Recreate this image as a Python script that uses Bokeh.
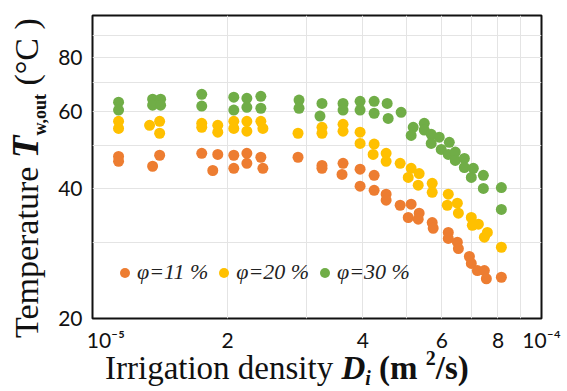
from bokeh.plotting import figure
from bokeh.layouts import column, row
from bokeh.models import Range1d, FixedTicker, Legend, LegendItem, Div
from bokeh.embed import file_html
from bokeh.resources import INLINE

# Irrigation density D_i in units of 1e-5 m^2/s; outlet water temperature in °C
d_11 = [1.143, 1.143, 1.411, 1.361, 1.751, 1.901, 1.853, 2.064, 2.064, 2.207, 2.207,
        2.371, 2.396, 2.869, 3.244, 3.244, 3.614, 3.595, 3.944, 3.944, 4.239, 4.239,
        4.508, 4.508, 4.844, 5.125, 5.049, 5.34, 5.314, 5.709, 5.738, 6.200, 6.200,
        6.495, 6.530, 6.909, 6.977, 7.197, 7.460, 7.537, 8.14]
t_11 = [47.3, 46.1, 47.6, 44.9, 48.1, 47.8, 43.9, 47.6, 44.4, 48.1, 45.6,
        47.1, 44.4, 47.1, 45.1, 44.4, 45.6, 43.0, 44.2, 40.4, 42.8, 39.5,
        38.7, 37.5, 36.5, 36.7, 34.2, 35.0, 33.9, 33.3, 32.3, 31.6, 30.6,
        30.0, 29.0, 27.8, 26.8, 25.8, 25.8, 24.7, 24.9]

d_20 = [1.143, 1.143, 1.340, 1.411, 1.411, 1.751, 1.751, 1.901, 1.901, 2.064, 2.064,
        2.207, 2.207, 2.371, 2.396, 2.869, 3.244, 3.244, 3.614, 3.614, 3.944, 3.944,
        4.239, 4.217, 4.508, 4.508, 4.844, 5.125, 5.049, 5.34, 5.314, 5.709, 5.709,
        6.200, 6.168, 6.495, 6.530, 6.977, 7.013, 7.235, 7.576, 7.460, 8.14]
t_20 = [57.0, 54.9, 55.8, 57.0, 53.5, 56.4, 55.2, 55.8, 53.8, 57.0, 54.9,
        57.0, 54.1, 57.0, 54.9, 53.5, 55.2, 53.5, 56.1, 54.1, 53.8, 50.7,
        50.5, 47.8, 48.1, 46.1, 45.6, 44.4, 42.3, 43.2, 40.6, 41.0, 39.1,
        38.7, 36.5, 36.9, 35.0, 34.2, 32.8, 33.0, 31.6, 30.8, 29.2]

d_30 = [1.143, 1.143, 1.361, 1.418, 1.361, 1.418, 1.751, 1.751, 2.064, 2.064, 2.207,
        2.207, 2.371, 2.371, 2.884, 2.884, 3.244, 3.211, 3.614, 3.614, 3.944, 3.944,
        4.239, 4.239, 4.532, 4.555, 4.868, 5.179, 5.125, 5.481, 5.481, 5.68, 5.68,
        5.919, 5.98, 6.232, 6.200, 6.427, 6.427, 6.733, 6.733, 7.049, 6.977, 7.422,
        7.422, 8.14, 8.14]
t_30 = [63.1, 60.5, 64.1, 64.1, 62.1, 62.1, 65.8, 61.8, 64.8, 60.5, 64.4,
        61.4, 65.1, 61.1, 63.8, 61.1, 62.7, 58.6, 62.7, 60.5, 63.4, 60.5,
        63.4, 59.5, 62.7, 57.9, 59.8, 55.2, 52.9, 56.4, 54.4, 53.2, 50.7,
        52.4, 49.1, 51.0, 47.8, 48.4, 46.3, 46.8, 44.6, 44.4, 42.3, 42.8,
        39.9, 40.1, 35.7]

series_names = ["φ=11 %", "φ=20 %", "φ=30 %"]
series_colors = ["#ED7D31", "#FFC000", "#70AD47"]

x_ticks = [1, 2, 4, 6, 8, 10]          # units of 1e-5
x_tick_labels = ["\u00a0\u00a0\u00a0\u00a0\u00a010⁻⁵", "2", "4", "6", "8", "10⁻⁴"]
x_grid = [2, 3, 4, 5, 6, 7, 8, 9]
y_ticks = [20, 40, 60, 80]
y_grid = [30, 40, 50, 60, 70, 80, 90]

SCALE = 1e-5

# ---------------- main plot ----------------
p = figure(frame_width=449, frame_height=303, output_backend="svg", toolbar_location=None,
           x_axis_type="log", y_axis_type="log", title=None,
           x_range=Range1d(1 * SCALE, 10 * SCALE), y_range=Range1d(20, 100),
           min_border_left=44, min_border_right=26, min_border_top=15, min_border_bottom=36)
p.background_fill_color = "white"
p.border_fill_color = "white"
p.outline_line_color = "#111111"
p.outline_line_width = 2

p.xaxis.ticker = FixedTicker(ticks=[v * SCALE for v in x_ticks])
p.xaxis.major_label_overrides = {v * SCALE: lab for v, lab in zip(x_ticks, x_tick_labels)}
p.yaxis.ticker = FixedTicker(ticks=y_ticks)
p.xgrid.ticker = FixedTicker(ticks=[v * SCALE for v in x_grid])
p.ygrid.ticker = FixedTicker(ticks=y_grid)
for g in (p.xgrid, p.ygrid):
    g.grid_line_color = "#e4e4e4"
    g.grid_line_width = 1

for ax in (p.xaxis, p.yaxis):
    ax.axis_line_color = None
    ax.major_tick_line_color = None
    ax.minor_tick_line_color = None
    ax.major_tick_out = 0
    ax.major_tick_in = 0
    ax.minor_tick_out = 0
    ax.minor_tick_in = 0
    ax.major_label_text_font = "Lato"
    ax.major_label_text_font_size = "21px"
    ax.major_label_text_color = "#111111"
p.yaxis.major_label_standoff = 10
p.xaxis.major_label_standoff = 8

renderers = []
for d, t, c in [(d_11, t_11, series_colors[0]), (d_20, t_20, series_colors[1]), (d_30, t_30, series_colors[2])]:
    r = p.scatter([v * SCALE for v in d], t, size=11, marker="circle",
                  fill_color=c, line_color=None)
    renderers.append(r)

legend = Legend(items=[LegendItem(label=n, renderers=[r]) for n, r in zip(series_names, renderers)],
                orientation="horizontal", location=(20, 33),
                glyph_width=25, glyph_height=25, label_height=25, label_standoff=0,
                spacing=3, padding=0, margin=0,
                background_fill_alpha=0, border_line_color=None,
                label_text_font="Liberation Serif", label_text_font_style="italic",
                label_text_font_size="22px", label_text_color="#222222")
p.add_layout(legend, "center")

# ---------------- axis titles (rich text) ----------------
FONT = "font-family:'Liberation Serif','Times New Roman',serif;color:#111111;white-space:nowrap;line-height:1;"

y_title_html = (
    '<div style="position:relative;width:48px;height:354px;overflow:visible;">'
    '<span style="position:absolute;left:7px;top:338px;transform:rotate(-90deg);'
    'transform-origin:0 0;font-size:34px;' + FONT + '">'
    'Temperature <b><i style="font-size:37px;">T</i></b>'
    '<b style="font-size:18px;vertical-align:-8px;line-height:0;">w,out</b>'
    ' (°C )</span></div>'
)
x_title_html = (
    '<div style="position:relative;width:567px;height:37px;overflow:visible;">'
    '<span style="position:absolute;left:105px;top:-2px;font-size:33px;' + FONT + '">'
    'Irrigation density <b><i>D<span style="font-size:20px;vertical-align:-6px;line-height:0;">i</span></i></b>'
    ' <b>(m <span style="font-size:20px;vertical-align:14px;line-height:0;">2</span>/s)</b>'
    '</span></div>'
)

L = Div(text=y_title_html, width=48, height=354, margin=0)
B = Div(text=x_title_html, width=567, height=37, margin=0)

layout = column(row(L, p, spacing=0), B, spacing=0)
open("out.html", "w").write(file_html(layout, INLINE))
